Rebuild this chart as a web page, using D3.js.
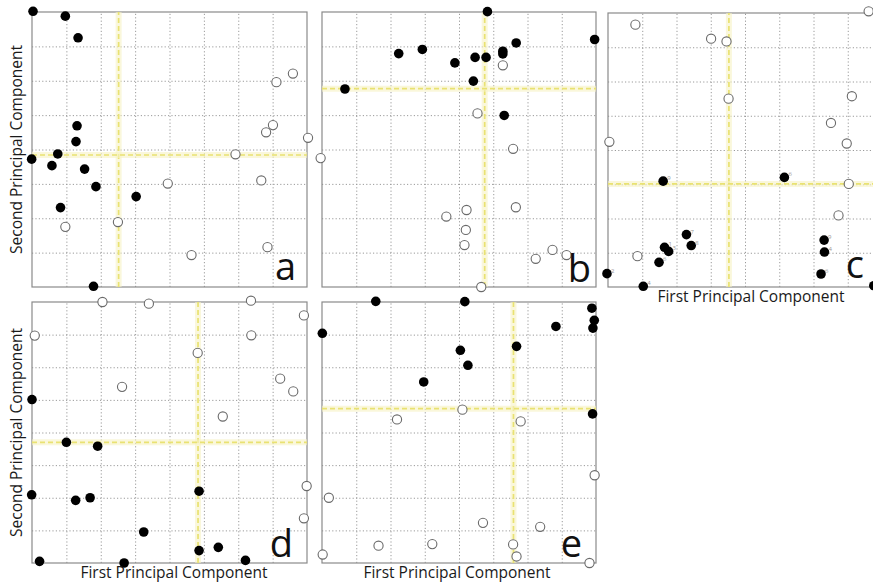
<!DOCTYPE html>
<html><head><meta charset="utf-8">
<script src="https://cdn.jsdelivr.net/npm/d3@7"></script>
<style>html,body{margin:0;padding:0;background:#fff;}svg{display:block;}</style>
</head><body>
<script>
// ---- data (grid units, 0..8 on both axes) ----
const panelNames = ["a","b","c","d","e"];
const gridTicks = [1,2,3,4,5,6,7];
const xTitle = "First Principal Component";
const yTitle = "Second Principal Component";

const filledA = [[0.03,8.02],[0.97,7.88],[1.34,7.25],[1.31,4.69],[1.28,4.23],[0.75,3.87],[-0.01,3.72],[0.58,3.53],[1.53,3.43],[1.86,2.92],[3.03,2.63],[0.83,2.31],[1.79,0.02]];
const openA = [[7.59,6.21],[7.11,5.96],[7.01,4.71],[6.81,4.50],[8.03,4.34],[5.92,3.86],[3.95,3.01],[6.67,3.10],[2.50,1.89],[0.97,1.75],[4.64,0.93],[6.85,1.16]];
const crossA = [2.52,3.84];

const filledB = [[4.83,8.01],[7.96,7.20],[5.67,7.10],[2.24,6.79],[2.93,6.91],[5.28,6.86],[5.28,6.78],[4.47,6.68],[4.79,6.68],[3.88,6.52],[4.42,5.99],[0.67,5.76],[5.32,4.99]];
const openB = [[5.28,6.45],[4.54,5.05],[5.58,4.02],[-0.04,3.75],[4.22,2.24],[3.63,2.05],[5.66,2.32],[4.20,1.66],[4.16,1.22],[6.73,1.08],[6.24,0.82],[7.14,0.93],[4.65,0.0]];
const crossB = [4.75,5.77];

const filledC = [[1.61,3.09],[5.15,3.20],[2.29,1.53],[2.43,1.21],[1.65,1.16],[1.77,1.04],[1.49,0.72],[-0.03,0.39],[1.03,0.02],[6.31,1.37],[6.32,1.02],[6.22,0.38],[7.76,0.04]];
const labelsC = ["9","6","7","8","1","3","6","2","4","9","4","6",""];
const openC = [[0.80,7.66],[3.01,7.25],[3.46,7.17],[3.52,5.50],[7.12,5.57],[6.51,4.79],[6.97,4.19],[0.04,4.24],[7.03,3.01],[6.73,2.09],[0.86,0.90],[7.61,8.05]];
const crossC = [3.53,3.01];

const filledD = [[0.0,5.01],[1.0,3.70],[1.91,3.58],[-0.01,2.09],[1.27,1.92],[1.69,2.00],[4.86,2.20],[3.25,0.95],[4.86,0.38],[5.42,0.48],[0.22,0.05],[2.68,0.0],[6.21,0.08]];
const openD = [[2.05,8.0],[3.40,7.95],[6.37,8.04],[7.91,7.59],[0.08,6.97],[6.38,6.98],[4.82,6.44],[2.62,5.40],[7.22,5.65],[7.60,5.26],[5.55,4.49],[7.99,2.36],[7.91,1.37]];
const crossD = [4.83,3.70];

const filledE = [[1.57,8.02],[4.17,8.01],[0.01,7.04],[7.88,7.81],[7.95,7.44],[7.91,7.20],[6.83,7.25],[5.68,6.64],[4.04,6.52],[4.26,6.06],[2.97,5.55],[7.90,4.57]];
const openE = [[4.10,4.70],[2.19,4.40],[5.80,4.34],[7.96,2.69],[0.20,2.00],[4.70,1.23],[6.37,1.11],[1.65,0.53],[3.22,0.58],[5.58,0.57],[5.68,0.20],[0.02,0.26],[7.81,0.0]];
const crossE = [5.59,4.73];

// ---- layout ----
const W = 873, H = 588;
const layout = {
  a:{x:32, y:12, w:275, h:275, lx:296, ly:280},
  b:{x:322,y:12, w:274, h:275, lx:591, ly:282},
  c:{x:608,y:13, w:274, h:274, lx:864, ly:278},
  d:{x:32, y:302,w:275, h:261, lx:293, ly:557},
  e:{x:322,y:302,w:274, h:261, lx:582, ly:557}
};
const panelData = {
  a:{filled:filledA, open:openA, cross:crossA},
  b:{filled:filledB, open:openB, cross:crossB},
  c:{filled:filledC, open:openC, cross:crossC, labels:labelsC},
  d:{filled:filledD, open:openD, cross:crossD},
  e:{filled:filledE, open:openE, cross:crossE}
};

const svg = d3.select("body").append("svg").attr("width",W).attr("height",H)
  .style("font-family","'Open Sans', sans-serif");

panelNames.forEach(name=>{
  const L = layout[name], D = panelData[name];
  const x = d3.scaleLinear().domain([0,8]).range([L.x, L.x+L.w]);
  const y = d3.scaleLinear().domain([0,8]).range([L.y+L.h, L.y]);
  const g = svg.append("g");

  // grid via axes
  const gx = g.append("g").attr("transform",`translate(0,${L.y+L.h})`)
    .call(d3.axisBottom(x).tickValues(gridTicks).tickSize(-L.h).tickFormat(""));
  const gy = g.append("g").attr("transform",`translate(${L.x},0)`)
    .call(d3.axisLeft(y).tickValues(gridTicks).tickSize(-L.w).tickFormat(""));
  [gx,gy].forEach(a=>{
    a.select(".domain").remove();
    a.selectAll(".tick line").attr("stroke","#9a9a9a").attr("stroke-width",1)
      .attr("stroke-dasharray","1.2,2.2");
  });

  // frame
  g.append("rect").attr("x",x(0)).attr("y",y(8)).attr("width",x(8)-x(0)).attr("height",y(0)-y(8))
    .attr("fill","none").attr("stroke","#8a8a8a").attr("stroke-width",1.2);

  // yellow cross-hair
  const cx = x(D.cross[0]), cy = y(D.cross[1]);
  const lines = [[cx,y(0),cx,y(8)],[x(0),cy,x(8),cy]];
  lines.forEach(l=>{
    g.append("line").attr("x1",l[0]).attr("y1",l[1]).attr("x2",l[2]).attr("y2",l[3])
      .attr("stroke","#f7f3c4").attr("stroke-width",6).attr("opacity",0.6);
    g.append("line").attr("x1",l[0]).attr("y1",l[1]).attr("x2",l[2]).attr("y2",l[3])
      .attr("stroke","#e9e272").attr("stroke-width",1.7).attr("stroke-dasharray","5,3");
  });

  // points
  g.selectAll("circle.open").data(D.open).join("circle").attr("class","open")
    .attr("cx",d=>x(d[0])).attr("cy",d=>y(d[1])).attr("r",4.6)
    .attr("fill","#fff").attr("stroke","#6a6a6a").attr("stroke-width",1.1);
  g.selectAll("circle.filled").data(D.filled).join("circle").attr("class","filled")
    .attr("cx",d=>x(d[0])).attr("cy",d=>y(d[1])).attr("r",4.8).attr("fill","#000");
  if (D.labels) {
    g.selectAll("text.lab").data(D.filled).join("text").attr("class","lab")
      .attr("x",d=>x(d[0])+4).attr("y",d=>y(d[1])-1).attr("font-size",6).attr("fill","#999")
      .text((d,i)=>D.labels[i]);
  }

  // panel letter
  g.append("text").attr("x",L.lx).attr("y",L.ly).attr("text-anchor","end")
    .attr("font-size",38).attr("fill","#111").text(name);
});

// axis titles
const titleStyle = t=>t.attr("font-size",15.5).attr("fill","#1a1a1a").attr("text-anchor","middle");
[["c",751],["d",174],["e",457]].forEach(([n,cx])=>{
  const L = layout[n];
  svg.append("text").attr("x",cx).attr("y",L.y+L.h+15).call(titleStyle).text(xTitle);
});
[["a"],["d"]].forEach(([n])=>{
  const L = layout[n];
  svg.append("text").attr("transform",`translate(22,${L.y+L.h/2}) rotate(-90)`).call(titleStyle).text(yTitle);
});
</script>
</body></html>
